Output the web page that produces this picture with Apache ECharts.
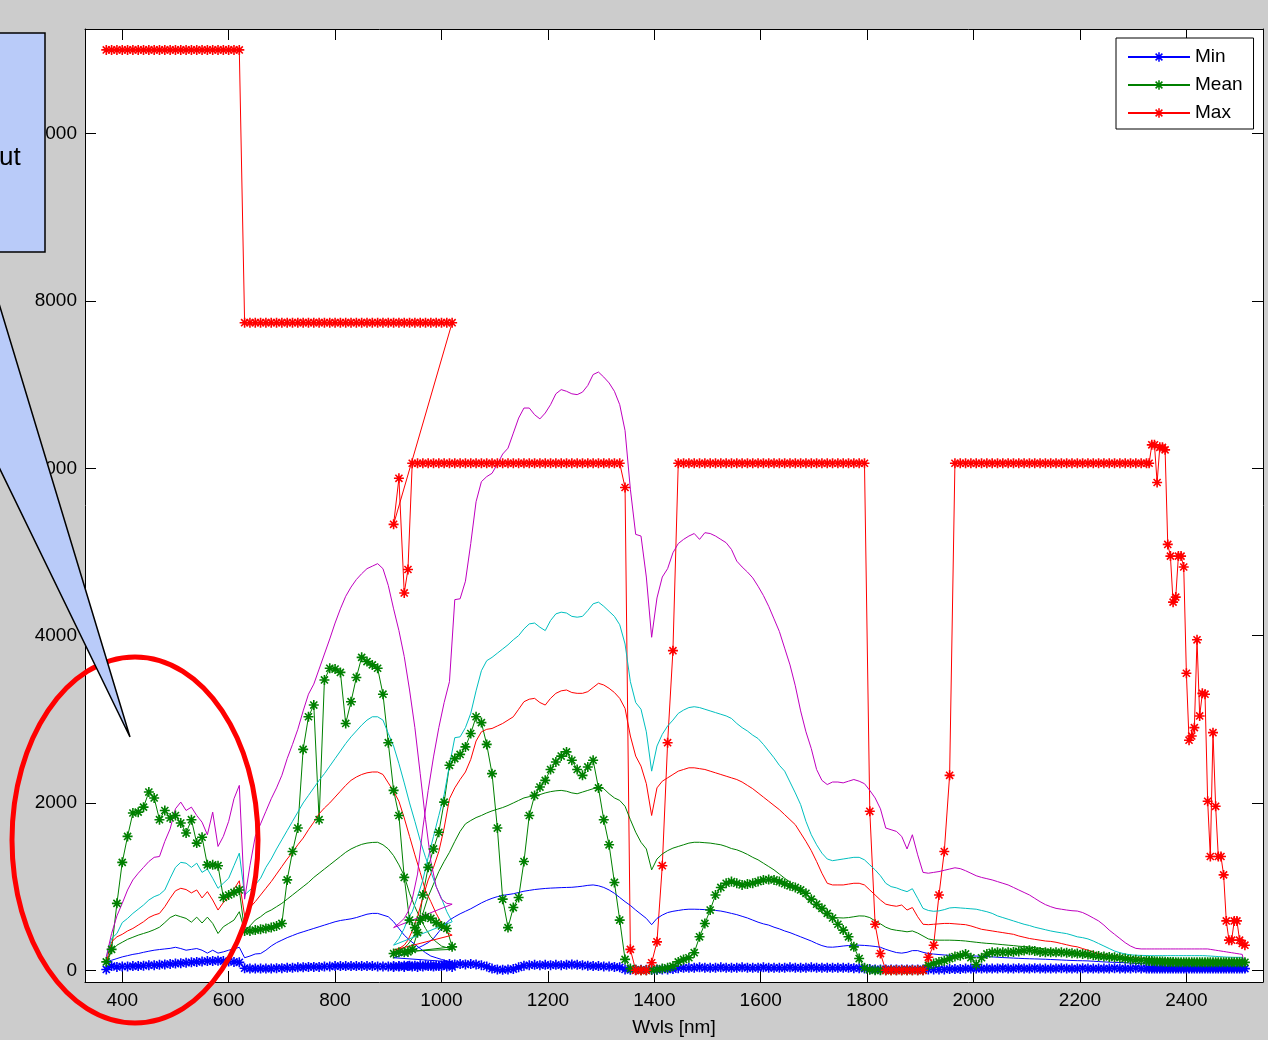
<!DOCTYPE html>
<html>
<head>
<meta charset="utf-8">
<title>Wvls [nm]</title>
<script src="https://cdn.jsdelivr.net/npm/echarts@6.0.0/dist/echarts.min.js"></script>
<style>
html, body { margin: 0; padding: 0; background: #cccccc; }
#chart { width: 1268px; height: 1040px; }
</style>
</head>
<body>
<div id="chart"></div>
<script>
// band centres: first detector (VNIR) then second detector (SWIR), in file order
var wlVnir = [370,380,390,400,410,420,430,440,450,460,
  470,480,490,500,510,520,530,540,550,560,
  570,580,590,600,610,620,630,640,650,660,
  670,680,690,700,710,720,730,740,750,760,
  770,780,790,800,810,820,830,840,850,860,
  870,880,890,900,910,920,930,940,950,960,
  970,980,990,1000,1010,1020];
var wlSwir = [910,920,930,937,
  945,955,965,975,985,995,1005,1015,1025,1035,
  1045,1055,1065,1075,1085,1095,1105,1115,1125,1135,
  1145,1155,1165,1175,1185,1195,1205,1215,1225,1235,
  1245,1255,1265,1275,1285,1295,1305,1315,1325,1335,
  1345,1355,1365,1375,1385,1395,1405,1415,1425,1435,
  1445,1455,1465,1475,1485,1495,1505,1515,1525,1535,
  1545,1555,1565,1575,1585,1595,1605,1615,1625,1635,
  1645,1655,1665,1675,1685,1695,1705,1715,1725,1735,
  1745,1755,1765,1775,1785,1795,1805,1815,1825,1835,
  1845,1855,1865,1875,1885,1895,1905,1915,1925,1935,
  1945,1955,1965,1975,1985,1995,2005,2015,2025,2035,
  2045,2055,2065,2075,2085,2095,2105,2115,2125,2135,
  2145,2155,2165,2175,2185,2195,2205,2215,2225,2235,
  2245,2255,2265,2275,2285,2295,2305,2315,2325,
  2330,2335,2340,2345,2350,2355,2360,2365,2370,2375,
  2380,2385,2390,2395,2400,2405,2410,2415,2420,2425,
  2430,2435,2440,2445,2450,2455,2460,2465,2470,2475,
  2480,2485,2490,2495,2500,2505,2510];

var xTicks = [400,600,800,1000,1200,1400,1600,1800,2000,2200,2400];
var yTicks = [0,2000,4000,6000,8000,10000];

// Min
var minVnir = [10,50,40,45,45,50,50,55,60,60,
  65,70,75,80,85,90,95,100,105,110,
  110,115,110,105,100,95,25,20,20,20,
  20,20,25,25,30,30,35,35,40,40,
  40,45,45,50,50,50,50,50,50,50,
  50,45,45,45,50,50,55,55,55,60,
  60,55,55,50,45,40];
var minSwir = [40,45,40,50,
  45,40,45,50,45,50,70,75,70,75,
  70,75,70,60,45,20,10,5,10,15,
  35,55,60,65,60,65,60,65,60,65,
  70,65,60,55,50,50,45,45,40,35,
  10,5,5,5,5,5,5,10,10,15,
  25,30,30,30,35,30,30,30,35,30,
  30,30,35,30,30,30,35,30,30,30,
  30,35,30,30,30,35,30,30,30,30,
  30,30,30,25,25,20,15,10,10,10,
  10,10,10,10,10,10,10,10,10,10,
  10,15,15,15,20,20,20,20,20,20,
  20,25,20,20,25,20,20,25,20,20,
  20,20,25,20,20,20,25,20,20,20,
  20,20,25,20,20,20,25,20,20,
  20,20,20,20,20,20,20,20,20,20,
  20,20,20,20,20,20,20,20,20,20,
  20,20,20,20,20,20,20,20,20,20,
  20,20,20,20,20,20,20];

// Mean
var meanVnir = [100,250,800,1290,1600,1880,1890,1950,2130,2060,
  1800,1910,1820,1850,1760,1640,1800,1520,1590,1260,
  1260,1250,870,900,930,960,470,470,480,490,
  500,510,530,560,1080,1420,1700,2640,3030,3170,
  1800,3470,3610,3600,3560,2950,3210,3500,3740,3690,
  3650,3610,3300,2720,2150,1850,1110,600,510,600,
  640,620,570,530,500,280];
var meanSwir = [200,215,215,220,
  250,450,900,1230,1450,1650,2010,2450,2530,2580,
  2670,2830,3030,2960,2700,2350,1700,850,510,750,
  870,1300,1850,2090,2190,2270,2400,2490,2560,2610,
  2510,2400,2330,2430,2510,2180,1800,1500,1050,600,
  130,20,5,0,0,5,10,20,30,50,
  100,130,150,210,400,560,720,900,990,1040,
  1060,1040,1020,1030,1040,1060,1080,1085,1080,1060,
  1035,1010,990,960,920,850,790,740,680,625,
  550,480,400,280,140,30,5,0,0,0,
  0,0,0,0,0,0,0,60,80,100,
  115,140,165,175,195,150,70,150,195,215,
  215,215,215,220,225,235,240,230,220,215,
  215,215,215,210,205,200,195,190,180,170,
  165,160,155,150,140,130,125,120,115,
  112,110,108,106,105,104,102,100,100,98,
  97,96,95,95,95,95,95,95,95,95,
  95,95,95,95,95,95,95,95,95,95,
  95,95,95,95,95,95,95];

// Max
var maxVnir = [11000,11000,11000,11000,11000,11000,11000,11000,11000,11000,
  11000,11000,11000,11000,11000,11000,11000,11000,11000,11000,
  11000,11000,11000,11000,11000,11000,7740,7740,7740,7740,
  7740,7740,7740,7740,7740,7740,7740,7740,7740,7740,
  7740,7740,7740,7740,7740,7740,7740,7740,7740,7740,
  7740,7740,7740,7740,7740,7740,7740,7740,7740,7740,
  7740,7740,7740,7740,7740,7740];
var maxSwir = [5330,5880,4510,4790,
  6060,6060,6060,6060,6060,6060,6060,6060,6060,6060,
  6060,6060,6060,6060,6060,6060,6060,6060,6060,6060,
  6060,6060,6060,6060,6060,6060,6060,6060,6060,6060,
  6060,6060,6060,6060,6060,6060,6060,6060,6060,6060,
  5770,250,0,0,0,90,340,1250,2720,3820,
  6060,6060,6060,6060,6060,6060,6060,6060,6060,6060,
  6060,6060,6060,6060,6060,6060,6060,6060,6060,6060,
  6060,6060,6060,6060,6060,6060,6060,6060,6060,6060,
  6060,6060,6060,6060,6060,6060,1900,550,200,0,
  0,0,0,0,0,0,0,155,300,900,
  1420,2330,6060,6060,6060,6060,6060,6060,6060,6060,
  6060,6060,6060,6060,6060,6060,6060,6060,6060,6060,
  6060,6060,6060,6060,6060,6060,6060,6060,6060,6060,
  6060,6060,6060,6060,6060,6060,6060,6060,6060,
  6060,6280,6280,5830,6250,6250,6220,5090,4950,4400,
  4460,4950,4950,4820,3550,2750,2800,2900,3950,3040,
  3310,3300,2020,1360,2840,1960,1360,1360,1140,590,
  360,360,590,590,360,320,300];

// unlabeled curves (blue, green, red, cyan, magenta)
var p1Vnir = [100,120,140,160,175,190,200,215,228,240,
  248,255,262,275,260,240,250,260,240,205,
  240,205,220,240,255,275,150,170,195,200,
  240,290,330,360,390,415,440,460,480,500,
  520,540,560,580,595,605,615,630,650,670,
  680,680,660,640,580,500,420,360,310,260,
  210,170,150,130,110,100];
var p1Swir = [150,170,190,210,
  235,265,295,330,380,460,540,600,640,675,
  705,735,770,805,835,860,880,895,905,915,
  930,945,955,965,972,978,982,985,988,990,
  992,998,1005,1015,1020,1010,990,960,920,870,
  820,775,720,670,620,545,620,660,690,705,
  715,725,730,730,728,725,720,715,708,695,
  680,665,645,625,600,575,555,540,515,495,
  470,450,425,400,375,350,320,295,278,276,
  282,290,296,300,300,297,292,285,275,250,
  230,212,205,215,235,235,215,200,194,188,
  183,179,176,175,174,172,170,167,164,160,
  156,152,149,146,143,140,138,136,134,132,
  129,126,123,120,117,115,114,112,108,104,
  100,97,95,93,90,86,82,79,76,
  75,75,75,75,75,75,75,75,75,75,
  75,75,75,75,75,75,75,75,75,75,
  75,75,75,75,75,75,75,75,75,75,
  75,75,74,74,73,73,60];

var p2Vnir = [80,230,300,335,370,395,420,440,460,485,
  515,570,630,660,640,620,575,635,565,635,
  560,440,520,560,600,700,470,530,600,640,
  690,720,760,800,850,900,950,1000,1050,1110,
  1160,1210,1260,1310,1360,1410,1450,1480,1505,1520,
  1528,1530,1500,1450,1370,1260,1130,920,760,620,
  500,400,340,290,270,250];
var p2Swir = [220,240,270,310,
  380,500,680,880,1030,1180,1300,1410,1540,1660,
  1750,1790,1825,1850,1880,1905,1925,1945,1970,2000,
  2030,2060,2075,2085,2100,2120,2135,2145,2150,2140,
  2120,2110,2130,2150,2170,2190,2170,2110,2060,2030,
  1960,1800,1650,1530,1450,1200,1330,1390,1430,1460,
  1480,1500,1520,1530,1530,1525,1520,1510,1500,1480,
  1455,1440,1415,1385,1350,1320,1280,1240,1200,1150,
  1100,1050,990,920,860,800,745,690,650,635,
  628,625,630,640,650,648,630,590,555,515,
  490,478,470,460,470,445,410,375,362,360,
  360,360,358,355,350,342,335,328,322,318,
  312,306,300,295,288,283,278,270,262,254,
  244,234,224,212,200,186,172,162,155,150,
  145,140,136,133,130,127,124,121,118,
  116,115,115,114,113,112,111,110,110,109,
  108,107,106,105,104,103,102,101,100,100,
  99,99,98,98,97,97,96,96,95,95,
  95,95,95,95,95,94,80];

var p3Vnir = [100,340,400,430,470,500,540,580,630,660,
  680,760,860,950,980,965,925,960,865,940,
  840,720,810,870,970,1070,650,750,820,900,
  980,1060,1150,1240,1330,1410,1500,1580,1680,1770,
  1870,1940,2000,2070,2140,2210,2270,2310,2340,2360,
  2370,2370,2340,2240,2140,2020,1820,1600,1380,1170,
  950,820,680,560,450,420];
var p3Swir = [240,260,300,360,
  470,640,870,1080,1230,1420,1700,2050,2180,2280,
  2370,2520,2740,2850,2880,2890,2920,2950,2990,3030,
  3120,3210,3240,3250,3200,3170,3250,3310,3340,3350,
  3320,3310,3310,3330,3380,3430,3410,3370,3320,3250,
  3130,2800,2560,2440,2230,1850,2180,2260,2300,2340,
  2380,2400,2420,2420,2410,2400,2380,2360,2340,2320,
  2300,2280,2250,2210,2170,2120,2070,2020,1970,1920,
  1860,1800,1740,1640,1540,1430,1300,1160,1040,1020,
  1020,1020,1030,1040,1040,1020,960,900,840,790,
  775,765,780,720,750,640,550,545,550,555,
  560,560,555,550,545,530,510,490,480,470,
  460,450,440,430,410,395,380,370,360,350,
  345,335,320,305,290,280,260,240,220,200,
  185,175,165,158,155,150,148,145,140,
  138,136,135,134,133,132,131,130,130,129,
  128,127,126,125,124,123,122,121,120,120,
  119,118,118,117,117,116,116,115,115,115,
  115,115,114,114,114,113,90];

var p4Vnir = [150,380,440,570,620,680,730,780,840,880,
  905,960,1100,1230,1290,1280,1230,1280,1170,1210,
  1100,980,1040,1100,1250,1400,900,960,1020,1100,
  1230,1330,1450,1560,1670,1780,1890,2000,2090,2180,
  2270,2350,2440,2530,2620,2710,2790,2860,2930,2990,
  3030,3030,2990,2830,2680,2470,2240,2000,1780,1550,
  1350,1180,1000,860,700,580];
var p4Swir = [300,380,500,620,
  700,880,1080,1350,1600,1850,2100,2450,2780,2790,
  2900,3070,3340,3580,3700,3740,3790,3840,3890,3950,
  4000,4080,4140,4150,4100,4060,4180,4260,4280,4270,
  4230,4220,4230,4300,4380,4400,4350,4290,4230,4130,
  3900,3450,3200,3120,2850,2380,2680,2820,2920,2990,
  3070,3110,3140,3150,3140,3120,3100,3080,3060,3040,
  3010,2950,2900,2860,2810,2770,2700,2620,2540,2450,
  2380,2250,2120,1980,1780,1620,1500,1400,1330,1310,
  1320,1330,1340,1350,1350,1320,1260,1200,1130,1040,
  1000,985,960,940,975,860,740,715,705,710,
  725,745,750,745,740,735,730,715,700,680,
  650,630,610,590,570,550,535,515,500,485,
  470,458,448,438,420,400,390,375,350,320,
  290,260,230,210,195,185,180,178,176,
  175,175,175,175,175,175,175,175,175,175,
  175,175,175,175,175,175,175,175,175,175,
  175,174,172,170,168,166,164,162,160,158,
  157,156,155,155,155,155,110];

var p5Vnir = [160,440,650,800,960,1080,1160,1230,1300,1350,
  1360,1540,1690,1930,2010,1910,1950,1850,1770,1620,
  1890,1480,1600,1780,2050,2210,850,1250,1600,1750,
  1900,2050,2180,2330,2530,2700,2880,3100,3300,3420,
  3600,3780,3960,4150,4320,4470,4580,4670,4740,4800,
  4830,4860,4800,4600,4320,4060,3750,3350,2900,2350,
  1800,1300,1000,850,800,790];
var p5Swir = [510,560,620,700,
  850,1150,1700,2150,2550,2900,3200,3450,4430,4440,
  4650,5100,5600,5840,5900,5940,6050,6170,6240,6420,
  6600,6720,6720,6640,6590,6660,6760,6890,6940,6920,
  6890,6880,6910,6990,7120,7150,7090,7020,6920,6760,
  6450,5750,5210,5190,4700,3980,4450,4700,4800,4990,
  5100,5150,5190,5220,5150,5230,5220,5190,5150,5110,
  5030,4890,4820,4760,4690,4590,4480,4350,4200,4050,
  3850,3650,3400,3100,2850,2650,2400,2270,2220,2250,
  2250,2240,2260,2280,2260,2230,2150,2060,1930,1700,
  1680,1660,1600,1450,1620,1380,1170,1160,1170,1180,
  1195,1210,1225,1215,1190,1160,1130,1110,1095,1080,
  1060,1040,1020,990,960,930,900,860,820,785,
  760,740,730,720,712,708,690,660,625,590,
  540,480,430,380,330,290,262,255,255,
  255,255,255,255,255,255,255,255,255,255,
  255,255,255,255,255,255,255,255,255,255,
  255,255,255,250,245,240,235,230,225,220,
  215,210,205,200,195,190,30];

var wavelengths = wlVnir.concat(wlSwir);

function pairs(vnir, swir) {
	var v = vnir.concat(swir);
	if (v.length !== wavelengths.length) {
		console.error('length mismatch', v.length, wavelengths.length);
	}
	return wavelengths.map(function(w, i) {
		return [w, v[i]];
	});
}

// matlab style '*' marker
var star = 'path://M-5,-0.8L5,-0.8L5,0.8L-5,0.8Z M-0.8,-5L0.8,-5L0.8,5L-0.8,5Z ' +
	'M-4.1,-2.97L-2.97,-4.1L4.1,2.97L2.97,4.1Z M-4.1,2.97L2.97,-4.1L4.1,-2.97L-2.97,4.1Z';

var font = 'Liberation Sans, Arial, Helvetica, sans-serif';

function plainNumber(v) {
	return String(v);
}

function markedLine(name, color, data) {
	return {
		name : name,
		type : 'line',
		data : data,
		symbol : star,
		symbolSize : 10,
		showAllSymbol : true,
		lineStyle : { color : color, width : 1 },
		itemStyle : { color : color },
		emphasis : { disabled : true }
	};
}
function plainLine(name, color, data) {
	return {
		name : name,
		type : 'line',
		data : data,
		symbol : 'none',
		showSymbol : false,
		lineStyle : { color : color, width : 1 },
		itemStyle : { color : color },
		emphasis : { disabled : true }
	};
}

var chart = echarts.init(document.getElementById('chart'));

chart.setOption({
	animation : false,
	backgroundColor : '#cccccc',
	grid : {
		left : 85,
		top : 29,
		right : 5,
		bottom : 58,
		show : true,
		backgroundColor : '#ffffff',
		borderWidth : 0,
		containLabel : false,
		outerBoundsMode : 'none'
	},
	legend : {
		data : ['Min', 'Mean', 'Max'],
		orient : 'vertical',
		left : 1116,
		top : 38,
		padding : [9, 11, 6, 11],
		itemWidth : 62,
		itemHeight : 12,
		itemGap : 8,
		backgroundColor : '#ffffff',
		borderColor : '#000000',
		borderWidth : 1,
		borderRadius : 0,
		selectedMode : false,
		textStyle : {
			color : '#000000',
			fontSize : 19,
			lineHeight : 20,
			fontFamily : font
		}
	},
	xAxis : [{
		type : 'value',
		min : 330,
		max : 2544,
		position : 'bottom',
		name : 'Wvls [nm]',
		nameLocation : 'middle',
		nameGap : 36,
		nameTextStyle : { color : '#000000', fontSize : 19, fontFamily : font },
		axisLine : { show : true, onZero : false, lineStyle : { color : '#000000', width : 1 } },
		axisTick : { show : true, inside : true, length : 11, customValues : xTicks,
			lineStyle : { color : '#000000', width : 1 } },
		axisLabel : { customValues : xTicks, formatter : plainNumber, color : '#000000',
			fontSize : 19, fontFamily : font, margin : 9 },
		splitLine : { show : false }
	}, {
		type : 'value',
		min : 330,
		max : 2544,
		position : 'top',
		axisLine : { show : true, onZero : false, lineStyle : { color : '#000000', width : 1 } },
		axisTick : { show : true, inside : true, length : 11, customValues : xTicks,
			lineStyle : { color : '#000000', width : 1 } },
		axisLabel : { show : false },
		splitLine : { show : false }
	}],
	yAxis : [{
		type : 'value',
		min : -140,
		max : 11250,
		position : 'left',
		axisLine : { show : true, onZero : false, lineStyle : { color : '#000000', width : 1 } },
		axisTick : { show : true, inside : true, length : 11, customValues : yTicks,
			lineStyle : { color : '#000000', width : 1 } },
		axisLabel : { customValues : yTicks, formatter : plainNumber, color : '#000000',
			fontSize : 19, fontFamily : font, margin : 8 },
		splitLine : { show : false }
	}, {
		type : 'value',
		min : -140,
		max : 11250,
		position : 'right',
		axisLine : { show : true, onZero : false, lineStyle : { color : '#000000', width : 1 } },
		axisTick : { show : true, inside : true, length : 11, customValues : yTicks,
			lineStyle : { color : '#000000', width : 1 } },
		axisLabel : { show : false },
		splitLine : { show : false }
	}],
	series : [
		markedLine('Min', '#0000ff', pairs(minVnir, minSwir)),
		markedLine('Mean', '#008000', pairs(meanVnir, meanSwir)),
		markedLine('Max', '#ff0000', pairs(maxVnir, maxSwir)),
		plainLine('p1', '#0000ff', pairs(p1Vnir, p1Swir)),
		plainLine('p2', '#008000', pairs(p2Vnir, p2Swir)),
		plainLine('p3', '#ff0000', pairs(p3Vnir, p3Swir)),
		plainLine('p4', '#00bfbf', pairs(p4Vnir, p4Swir)),
		plainLine('p5', '#bf00bf', pairs(p5Vnir, p5Swir))
	],
	// annotation drawn over the figure: red ellipse and a callout box
	graphic : [{
		type : 'ellipse',
		shape : { cx : 135, cy : 840, rx : 123, ry : 183 },
		style : { fill : 'none', stroke : '#ff0000', lineWidth : 5 },
		z : 100
	}, {
		type : 'polygon',
		shape : { points : [[-3, 297], [130, 737], [-3, 463]] },
		style : { fill : '#b9cbf9', stroke : '#000000', lineWidth : 1.5 },
		z : 101
	}, {
		type : 'rect',
		shape : { x : -5, y : 33, width : 50, height : 219 },
		style : { fill : '#b9cbf9', stroke : '#000000', lineWidth : 1.5 },
		z : 102
	}, {
		type : 'text',
		x : -1,
		y : 158,
		style : { text : 'ut', fontSize : 26, fontFamily : font, fill : '#000000',
			verticalAlign : 'middle' },
		z : 103
	}]
});
</script>
</body>
</html>
